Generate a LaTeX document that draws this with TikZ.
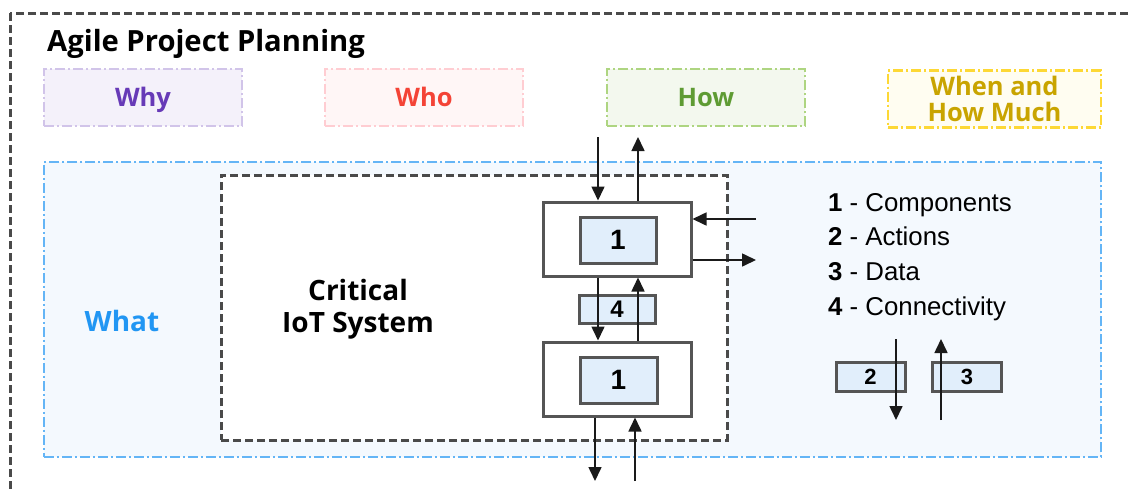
\documentclass[tikz,border=0pt]{standalone}
\usepackage{fontspec}
\setmainfont{Open Sans}
\newfontfamily\legendfont{Liberation Sans}
\usetikzlibrary{arrows.meta}

\definecolor{frameGray}{HTML}{4A4A4A}
\definecolor{boxGray}{HTML}{555555}
\definecolor{lineDark}{HTML}{1A1A1A}
\definecolor{whyLine}{HTML}{D1C4E9}\definecolor{whyFill}{HTML}{F4F1FA}\definecolor{whyText}{HTML}{673AB7}
\definecolor{whoLine}{HTML}{FFCDD2}\definecolor{whoFill}{HTML}{FFF6F6}\definecolor{whoText}{HTML}{F44336}
\definecolor{howLine}{HTML}{AED581}\definecolor{howFill}{HTML}{F3F8EE}\definecolor{howText}{HTML}{5E9B33}
\definecolor{whenLine}{HTML}{FDD835}\definecolor{whenFill}{HTML}{FFFDF1}\definecolor{whenText}{HTML}{C9A400}
\definecolor{whatLine}{HTML}{64B5F6}\definecolor{whatFill}{HTML}{F4F9FE}\definecolor{whatText}{HTML}{2196F3}
\definecolor{partFill}{HTML}{E1EEFB}

\tikzset{
  x=1pt, y=-1pt,
  dashdot/.style={line width=2.8pt, dash pattern=on 10pt off 3pt on 2pt off 3pt},
  greydash/.style={draw=frameGray, line width=3pt, dash pattern=on 8pt off 4pt},
  question/.style={dashdot, draw=#1Line, fill=#1Fill, text=#1Text, minimum width=198pt,
    minimum height=57pt, inner sep=0pt, align=center,
    text height=18pt, text depth=0pt,
    font=\fontsize{25.5}{26}\selectfont\bfseries},
  component/.style={draw=boxGray, line width=3pt, fill=white, minimum width=148pt,
    minimum height=74pt, inner sep=0pt},
  part/.style={draw=boxGray, line width=3pt, fill=partFill, inner sep=0pt,
    font=\legendfont\fontsize{24}{24}\selectfont\bfseries},
  flow/.style={draw=lineDark, line width=1.6pt, -{Triangle[length=14pt,width=13pt]}},
  legend/.style={anchor=base west, inner sep=0pt, font=\legendfont\fontsize{25.8}{26}\selectfont},
}

\begin{document}
\begin{tikzpicture}
\useasboundingbox (0,0) rectangle (1131,490);
\begin{scope}
\clip (0,0) rectangle (1131,490);
% planning frame, running on past the right and lower edges
\draw[greydash] (10,13) rectangle (1160,520);
\end{scope}

\node[anchor=base west, inner sep=0pt, font=\fontsize{29.2}{30}\selectfont\bfseries] (title) at (47,51) {Agile Project Planning};

% the four questions
\node[question=why]  (why)  at (143,97.5)  {Why};
\node[question=who]  (who)  at (424,97.5)  {Who};
\node[question=how]  (how)  at (706,97.5)  {How};
\node[question=when, minimum width=213pt, text height=, text depth=,
  font=\fontsize{25.5}{25.5}\selectfont\bfseries] (when) at (994.5,99) {When and\\How Much};

% the "what" area
\node[dashdot, draw=whatLine, fill=whatFill, minimum width=1057pt, minimum height=295pt, inner sep=0pt] (what) at (572.5,309.5) {};
\node[text=whatText, font=\fontsize{28}{29}\selectfont\bfseries] (whatlbl) at (122,321) {What};

% system boundary
\node[greydash, fill=white, minimum width=506pt, minimum height=265pt, inner sep=0pt] (system) at (474,307.5) {};
\node[align=center, font=\fontsize{28}{32}\selectfont\bfseries] (syslbl) at (358,309) {Critical\\IoT System};

% components and connectivity
\node[component] (upper) at (617,239) {};
\node[part, minimum width=76pt, minimum height=46pt, font=\legendfont\fontsize{28}{28}\selectfont\bfseries] (c1) at (618,240) {1};
\node[component] (lower) at (617.5,379) {};
\node[part, minimum width=77pt, minimum height=46pt, font=\legendfont\fontsize{28}{28}\selectfont\bfseries] (c2) at (618.5,380) {1};
\node[part, minimum width=76pt, minimum height=28pt] (link) at (617,309) {4};

% flows at the upper component
\coordinate (inTop) at (598,137);
\coordinate (outTop) at (638,137);
\coordinate (inRight) at (756,219);
\coordinate (outRight) at (756,260);
\draw[flow] (inTop) -- (inTop |- upper.north);
\draw[flow] (outTop |- upper.north) -- (outTop);
\draw[flow] (inRight) -- (inRight -| upper.east);
\draw[flow] (outRight -| upper.east) -- (outRight);

% flows between the components
\draw[flow] (inTop |- upper.south) -- (inTop |- lower.north);
\draw[flow] (outTop |- lower.north) -- (outTop |- upper.south);

% flows at the lower component
\coordinate (outBottom) at (595,481);
\coordinate (inBottom) at (635,481);
\draw[flow] (outBottom |- lower.south) -- (outBottom);
\draw[flow] (inBottom) -- (inBottom |- lower.south);

% legend
\node[legend] (leg1) at (828,211) {\textbf{1} - Components};
\node[legend] (leg2) at (828,245) {\textbf{2} - Actions};
\node[legend] (leg3) at (828,280) {\textbf{3} - Data};
\node[legend] (leg4) at (828,315) {\textbf{4} - Connectivity};

\node[part, minimum width=69pt, minimum height=29pt, font=\legendfont\fontsize{22}{22}\selectfont\bfseries] (act) at (870.5,377) {2};
\node[part, minimum width=69pt, minimum height=29pt, font=\legendfont\fontsize{22}{22}\selectfont\bfseries] (dat) at (967,377) {3};
\coordinate (actTop) at (896,339);
\coordinate (actEnd) at (896,420);
\coordinate (datTop) at (941,339);
\coordinate (datEnd) at (941,420);
\draw[flow] (actTop) -- (actEnd);
\draw[flow] (datEnd) -- (datTop);
\end{tikzpicture}
\end{document}
